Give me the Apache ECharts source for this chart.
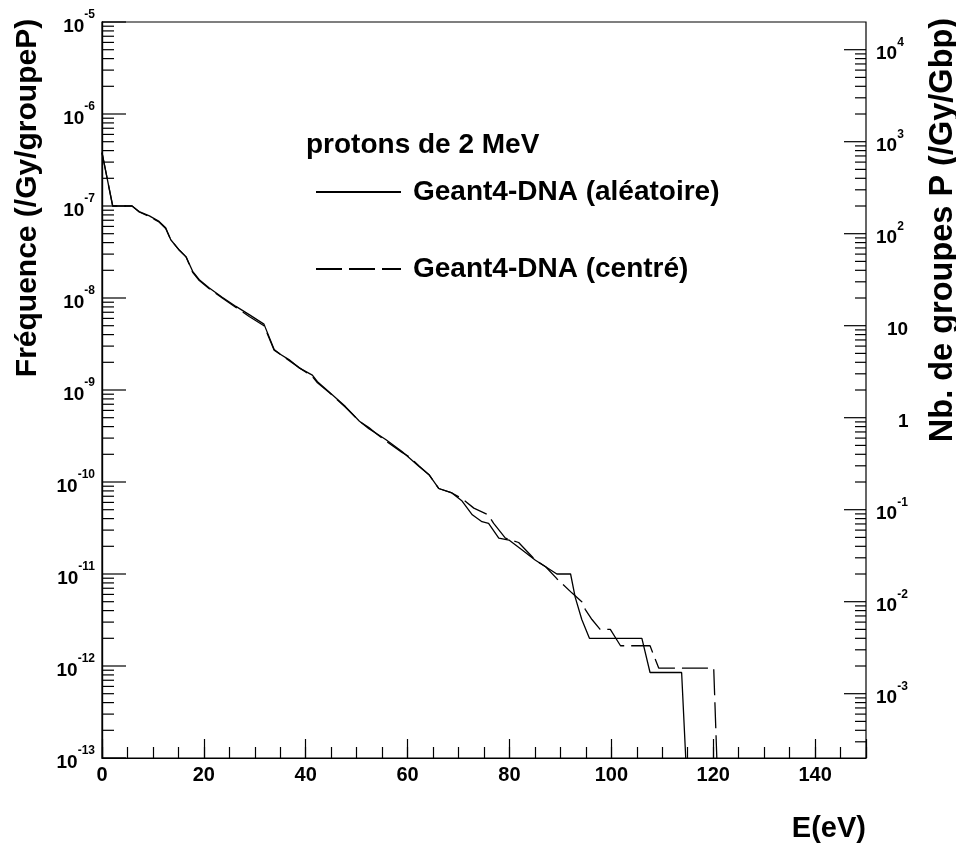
<!DOCTYPE html>
<html><head><meta charset="utf-8">
<script src="https://cdn.jsdelivr.net/npm/echarts@6/dist/echarts.min.js"></script>
<style>html,body{margin:0;padding:0;background:#fff}#c{width:956px;height:846px}</style>
</head><body><div id="c"></div>
<script>
const FONT = '"Liberation Sans", Arial, Helvetica, sans-serif';

const energyAleatoire = [0, 2.1, 5.9, 7.3, 9.3, 11.2, 12.5, 13.5, 15.2, 16.5, 17.8, 19.1, 21.0, 23.6, 26.3, 28.9, 31.8, 33.8, 35.0, 36.7, 38.7, 41.3, 42.3, 44.6, 47.8, 50.5, 52.4, 55.7, 58.9, 62.2, 64.2, 66.1, 68.7, 70.7, 72.7, 74.6, 75.9, 77.9, 79.9, 82.5, 85.1, 87.1, 89.3, 92.0, 92.9, 94.2, 95.7, 106.0, 107.6, 113.8, 114.8];
const freqAleatoire = [3.8e-7, 1.0e-7, 1.0e-7, 8.7e-8, 7.8e-8, 6.8e-8, 5.8e-8, 4.3e-8, 3.3e-8, 2.8e-8, 1.95e-8, 1.58e-8, 1.29e-8, 1.02e-8, 8.1e-9, 6.6e-9, 5.2e-9, 2.75e-9, 2.45e-9, 2.14e-9, 1.74e-9, 1.45e-9, 1.23e-9, 9.5e-10, 6.6e-10, 4.6e-10, 3.8e-10, 2.9e-10, 2.14e-10, 1.48e-10, 1.2e-10, 8.5e-11, 7.6e-11, 6.2e-11, 4.4e-11, 3.7e-11, 3.55e-11, 2.45e-11, 2.34e-11, 1.82e-11, 1.41e-11, 1.2e-11, 1.0e-11, 1.0e-11, 5.6e-12, 3.2e-12, 2.0e-12, 2.0e-12, 8.5e-13, 8.5e-13, 6e-14];

const energyCentre = [0, 2.1, 5.9, 7.3, 9.3, 11.2, 12.5, 13.5, 15.2, 16.5, 17.8, 19.1, 21.0, 23.6, 26.3, 28.9, 31.8, 33.8, 35.0, 36.7, 38.7, 41.3, 42.3, 44.6, 47.8, 50.5, 52.4, 54.0, 55.7, 58.9, 60.5, 62.2, 64.2, 66.1, 68.7, 70.7, 73.0, 75.8, 76.9, 79.2, 81.8, 85.1, 87.1, 89.3, 92.3, 94.2, 94.9, 96.2, 97.8, 99.8, 101.8, 107.6, 109.3, 120.1, 120.9];
const freqCentre = [3.8e-7, 1.0e-7, 1.0e-7, 8.6e-8, 7.7e-8, 6.7e-8, 5.7e-8, 4.3e-8, 3.3e-8, 2.8e-8, 1.9e-8, 1.55e-8, 1.27e-8, 1.0e-8, 7.9e-9, 6.3e-9, 5.0e-9, 2.7e-9, 2.45e-9, 2.1e-9, 1.75e-9, 1.4e-9, 1.2e-9, 9.4e-10, 6.5e-10, 4.6e-10, 3.9e-10, 3.3e-10, 2.8e-10, 2.1e-10, 1.85e-10, 1.5e-10, 1.2e-10, 8.5e-11, 7.6e-11, 6.6e-11, 5.2e-11, 4.4e-11, 3.55e-11, 2.45e-11, 2.2e-11, 1.41e-11, 1.2e-11, 8.9e-12, 6.2e-12, 5.0e-12, 4.1e-12, 3.2e-12, 2.5e-12, 2.5e-12, 1.66e-12, 1.66e-12, 9.5e-13, 9.5e-13, 5e-14];

const seriesNames = ['Geant4-DNA (aléatoire)', 'Geant4-DNA (centré)'];
const legendTitle = 'protons de 2 MeV';
const xTitle = 'E(eV)';
const yTitleLeft = 'Fréquence (/Gy/groupeP)';
const yTitleRight = 'Nb. de groupes P (/Gy/Gbp)';
const xRange = [0, 150];
const yRangeLeft = [1e-13, 1e-5];
const RIGHT_FACTOR = 2e9;                 // right-axis value = left-axis value * 2e9
const yRangeRight = [yRangeLeft[0] * RIGHT_FACTOR, yRangeLeft[1] * RIGHT_FACTOR];

// log-axis tick values (decades and 2..9 subdivisions)
const leftDecades = [-13, -12, -11, -10, -9, -8, -7, -6, -5];
const rightDecades = [-4, -3, -2, -1, 0, 1, 2, 3, 4];
const minorMultipliers = [2, 3, 4, 5, 6, 7, 8, 9];

const black = '#000';
const TICK = {leftMajor: 24, leftMinor: 12, rightMajor: 22, rightMinor: 11};

function buildTicks(decades, lo, hi, side) {
  const out = [];
  decades.forEach(d => {
    const base = Math.pow(10, d);
    if (base >= lo * 0.999 && base <= hi * 1.001) out.push([side, base, 1]);
    minorMultipliers.forEach(m => {
      const v = m * base;
      if (v > lo * 1.001 && v < hi * 0.999) out.push([side, v, 0]);
    });
  });
  return out;
}
const tickData = buildTicks(leftDecades, yRangeLeft[0], yRangeLeft[1], 0)
  .concat(buildTicks(rightDecades, yRangeRight[0], yRangeRight[1], 1));

const baseRich = {
  b: {fontSize: 19, fontWeight: 'bold', fontFamily: FONT, color: black, padding: [9, 0, 0, 0]},
  s: {fontSize: 12, fontWeight: 'bold', fontFamily: FONT, color: black, padding: [0, 0, 15, 0]}
};
function powLabel(v) {
  const l = Math.log10(v);
  const e = Math.round(l);
  if (Math.abs(l - e) > 1e-6) return '';
  if (e === 0) return '{p1|1}';
  if (e === 1) return '{p10|10}';
  return '{b|10}{s|' + e + '}';
}

const chart = echarts.init(document.getElementById('c'), null, {renderer: 'canvas'});
chart.setOption({
  backgroundColor: '#fff',
  animation: false,
  grid: [
    {left: 102, top: 22, width: 764, height: 736, show: true, borderColor: black, borderWidth: 1.2, backgroundColor: 'transparent'}
  ],
  xAxis: [
    {gridIndex: 0, type: 'value', position: 'bottom', min: xRange[0], max: xRange[1], interval: 20,
     axisLine: {show: true, lineStyle: {color: black, width: 1.2}},
     axisTick: {show: true, inside: true, length: 19, lineStyle: {color: black, width: 1.2}},
     axisLabel: {show: true, margin: 7, color: black, fontSize: 20, fontWeight: 'bold', fontFamily: FONT,
       formatter: v => (v % 20 === 0 ? String(v) : '')},
     splitLine: {show: false}},
    {gridIndex: 0, type: 'value', position: 'bottom', min: xRange[0], max: xRange[1], interval: 5,
     axisLine: {show: false}, axisLabel: {show: false}, splitLine: {show: false},
     axisTick: {show: true, inside: true, length: 11, lineStyle: {color: black, width: 1.2}}}
  ],
  yAxis: [
    {gridIndex: 0, type: 'log', logBase: 10, position: 'left', min: yRangeLeft[0], max: yRangeLeft[1],
     axisLine: {show: true, lineStyle: {color: black, width: 1.2}},
     axisTick: {show: false}, minorTick: {show: false},
     axisLabel: {show: true, margin: 7, formatter: powLabel, rich: baseRich},
     splitLine: {show: false}, minorSplitLine: {show: false}},
    {gridIndex: 0, type: 'log', logBase: 10, position: 'right', min: yRangeRight[0], max: yRangeRight[1],
     axisLine: {show: true, lineStyle: {color: black, width: 1.2}},
     axisTick: {show: false}, minorTick: {show: false},
     axisLabel: {show: true, margin: 10, formatter: powLabel,
       rich: Object.assign({}, baseRich, {
         p1: {fontSize: 19, fontWeight: 'bold', fontFamily: FONT, color: black, padding: [9, 0, 0, 22]},
         p10: {fontSize: 19, fontWeight: 'bold', fontFamily: FONT, color: black, padding: [9, 0, 0, 11]}
       })},
     splitLine: {show: false}}
  ],
  title: {text: legendTitle, left: 306, top: 131, padding: 0,
    textStyle: {fontSize: 28, fontWeight: 'bold', fontFamily: FONT, color: black}},
  legend: {
    left: 310, top: 173, orient: 'vertical', itemWidth: 85, itemHeight: 14, itemGap: 49,
    selectedMode: false,
    itemStyle: {opacity: 0, borderWidth: 0},
    textStyle: {fontSize: 28, fontWeight: 'bold', fontFamily: FONT, color: black, padding: [0, 0, 0, 7]},
    data: seriesNames
  },
  graphic: [
    {type: 'text', x: 28, y: 198, rotation: Math.PI / 2,
     style: {text: yTitleLeft, fontSize: 30, fontWeight: 'bold', fontFamily: FONT, fill: black, align: 'center', verticalAlign: 'middle'}},
    {type: 'text', x: 943, y: 230, rotation: Math.PI / 2,
     style: {text: yTitleRight, fontSize: 32.5, fontWeight: 'bold', fontFamily: FONT, fill: black, align: 'center', verticalAlign: 'middle'}},
    {type: 'text', x: 866, y: 829,
     style: {text: xTitle, fontSize: 29, fontWeight: 'bold', fontFamily: FONT, fill: black, align: 'right', verticalAlign: 'middle'}}
  ],
  series: [
    {name: seriesNames[0], type: 'line', xAxisIndex: 0, yAxisIndex: 0, symbol: 'none', clip: true,
     lineStyle: {color: black, width: 1.3, type: 'solid'}, itemStyle: {color: black},
     data: energyAleatoire.map((e, i) => [e, freqAleatoire[i]])},
    {name: seriesNames[1], type: 'line', xAxisIndex: 0, yAxisIndex: 0, symbol: 'none', clip: true,
     lineStyle: {color: black, width: 1.3, type: [26, 7]}, itemStyle: {color: black},
     data: energyCentre.map((e, i) => [e, freqCentre[i]])},
    {name: 'ticks', type: 'custom', xAxisIndex: 0, yAxisIndex: 0, silent: true, clip: false,
     data: tickData,
     encode: {x: 0, y: 1},
     renderItem: function (params, api) {
       const side = api.value(0);
       const v = api.value(1);
       const major = api.value(2) === 1;
       const yv = side === 0 ? v : v / RIGHT_FACTOR;
       const p = api.coord([side === 0 ? xRange[0] : xRange[1], yv]);
       const len = side === 0 ? (major ? TICK.leftMajor : TICK.leftMinor) : (major ? TICK.rightMajor : TICK.rightMinor);
       const dir = side === 0 ? 1 : -1;
       return {type: 'line', shape: {x1: p[0], y1: p[1], x2: p[0] + dir * len, y2: p[1]},
               style: {stroke: black, lineWidth: 1.2}};
     }}
  ]
});
</script></body></html>
